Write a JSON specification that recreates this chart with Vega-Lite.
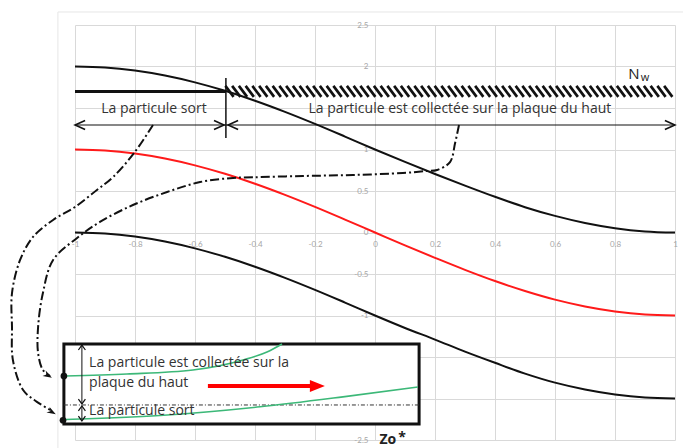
{
  "$schema": "https://vega.github.io/schema/vega-lite/v6.json",
  "autosize": "none",
  "padding": {"left": 75, "top": 25, "right": 8, "bottom": 8},
  "width": 600,
  "height": 415,
  "background": "white",
  "config": {"view": {"stroke": null}},
  "encoding": {
    "x": {"field": "x", "type": "quantitative",
      "scale": {"domain": [-1, 1], "nice": false, "zero": false},
      "axis": {"values": [-1, -0.8, -0.6, -0.4, -0.2, 0, 0.2, 0.4, 0.6, 0.8, 1], "offset": -207.5, "domain": false, "ticks": false, "title": null,
        "labelExpr": "toString(datum.value)", "labelFont": "Lato", "labelFontSize": 8, "labelColor": "#a6a6a6", "labelPadding": 8,
        "labelFlush": false, "labelOverlap": false, "gridColor": "#d9d9d9", "gridWidth": 1}},
    "y": {"field": "y", "type": "quantitative",
      "scale": {"domain": [-2.5, 2.5], "nice": false, "zero": false},
      "axis": {"values": [-2.5, -2, -1.5, -1, -0.5, 0, 0.5, 1, 1.5, 2, 2.5], "offset": -300, "domain": false, "ticks": false, "title": null,
        "labelExpr": "datum.value == 1.5 ? '' : toString(datum.value)", "labelFont": "Lato", "labelFontSize": 8, "labelColor": "#a6a6a6", "labelPadding": 7,
        "labelFlush": false, "labelOverlap": false, "gridColor": "#d9d9d9", "gridWidth": 1}}
  },
  "layer": [
    {
      "data": {"values": [{"x": -1.057, "x2": 1.06, "y": 2.657, "y2": -2.75}]},
      "mark": {"type": "rect", "fillOpacity": 0, "stroke": "#e6e6e6", "strokeWidth": 1},
      "encoding": {"x2": {"field": "x2"}, "y2": {"field": "y2"}}
    },
    {
      "data": {"values": [
        {"c": "top", "x": -1, "y": 2}, {"c": "top", "x": -0.9, "y": 1.988}, {"c": "top", "x": -0.8, "y": 1.951}, {"c": "top", "x": -0.7, "y": 1.891},
        {"c": "top", "x": -0.6, "y": 1.809}, {"c": "top", "x": -0.5, "y": 1.707}, {"c": "top", "x": -0.4, "y": 1.588}, {"c": "top", "x": -0.3, "y": 1.454},
        {"c": "top", "x": -0.2, "y": 1.309}, {"c": "top", "x": -0.1, "y": 1.156}, {"c": "top", "x": 0, "y": 1}, {"c": "top", "x": 0.1, "y": 0.85},
        {"c": "top", "x": 0.2, "y": 0.705}, {"c": "top", "x": 0.3, "y": 0.565}, {"c": "top", "x": 0.4, "y": 0.43}, {"c": "top", "x": 0.5, "y": 0.305},
        {"c": "top", "x": 0.6, "y": 0.2}, {"c": "top", "x": 0.7, "y": 0.115}, {"c": "top", "x": 0.8, "y": 0.052}, {"c": "top", "x": 0.9, "y": 0.013}, {"c": "top", "x": 1, "y": 0},
        {"c": "mid", "x": -1, "y": 1}, {"c": "mid", "x": -0.9, "y": 0.988}, {"c": "mid", "x": -0.8, "y": 0.951}, {"c": "mid", "x": -0.7, "y": 0.891},
        {"c": "mid", "x": -0.6, "y": 0.809}, {"c": "mid", "x": -0.5, "y": 0.707}, {"c": "mid", "x": -0.4, "y": 0.588}, {"c": "mid", "x": -0.3, "y": 0.454},
        {"c": "mid", "x": -0.2, "y": 0.309}, {"c": "mid", "x": -0.1, "y": 0.156}, {"c": "mid", "x": 0, "y": 0}, {"c": "mid", "x": 0.1, "y": -0.156},
        {"c": "mid", "x": 0.2, "y": -0.305}, {"c": "mid", "x": 0.3, "y": -0.45}, {"c": "mid", "x": 0.4, "y": -0.585}, {"c": "mid", "x": 0.5, "y": -0.705},
        {"c": "mid", "x": 0.6, "y": -0.809}, {"c": "mid", "x": 0.7, "y": -0.891}, {"c": "mid", "x": 0.8, "y": -0.951}, {"c": "mid", "x": 0.9, "y": -0.988}, {"c": "mid", "x": 1, "y": -1},
        {"c": "bot", "x": -1, "y": 0}, {"c": "bot", "x": -0.9, "y": -0.012}, {"c": "bot", "x": -0.8, "y": -0.049}, {"c": "bot", "x": -0.7, "y": -0.109},
        {"c": "bot", "x": -0.6, "y": -0.191}, {"c": "bot", "x": -0.5, "y": -0.293}, {"c": "bot", "x": -0.4, "y": -0.412}, {"c": "bot", "x": -0.3, "y": -0.546},
        {"c": "bot", "x": -0.2, "y": -0.691}, {"c": "bot", "x": -0.1, "y": -0.844}, {"c": "bot", "x": 0, "y": -1}, {"c": "bot", "x": 0.1, "y": -1.15},
        {"c": "bot", "x": 0.2, "y": -1.29}, {"c": "bot", "x": 0.3, "y": -1.435}, {"c": "bot", "x": 0.4, "y": -1.57}, {"c": "bot", "x": 0.5, "y": -1.7},
        {"c": "bot", "x": 0.6, "y": -1.809}, {"c": "bot", "x": 0.7, "y": -1.891}, {"c": "bot", "x": 0.8, "y": -1.951}, {"c": "bot", "x": 0.9, "y": -1.988}, {"c": "bot", "x": 1, "y": -2}
      ]},
      "mark": {"type": "line", "strokeWidth": 2, "interpolate": "monotone"},
      "encoding": {"color": {"field": "c", "type": "nominal", "legend": null,
        "scale": {"domain": ["top", "mid", "bot"], "range": ["#111111", "#ff1a1a", "#111111"]}}}
    },
    {
      "data": {"values": [{"x": -1, "x2": -0.497, "y": 1.7}]},
      "mark": {"type": "rule", "strokeWidth": 3, "color": "#111111"},
      "encoding": {"x2": {"field": "x2"}}
    },
    {
      "data": {"values": [
        {"x": -0.485, "y": 1.7}, {"x": -0.4625, "y": 1.7}, {"x": -0.44, "y": 1.7}, {"x": -0.4175, "y": 1.7}, {"x": -0.395, "y": 1.7}, {"x": -0.3725, "y": 1.7},
        {"x": -0.35, "y": 1.7}, {"x": -0.3275, "y": 1.7}, {"x": -0.305, "y": 1.7}, {"x": -0.2825, "y": 1.7}, {"x": -0.26, "y": 1.7}, {"x": -0.2375, "y": 1.7},
        {"x": -0.215, "y": 1.7}, {"x": -0.1925, "y": 1.7}, {"x": -0.17, "y": 1.7}, {"x": -0.1475, "y": 1.7}, {"x": -0.125, "y": 1.7}, {"x": -0.1025, "y": 1.7},
        {"x": -0.08, "y": 1.7}, {"x": -0.0575, "y": 1.7}, {"x": -0.035, "y": 1.7}, {"x": -0.0125, "y": 1.7}, {"x": 0.01, "y": 1.7}, {"x": 0.0325, "y": 1.7},
        {"x": 0.055, "y": 1.7}, {"x": 0.0775, "y": 1.7}, {"x": 0.1, "y": 1.7}, {"x": 0.1225, "y": 1.7}, {"x": 0.145, "y": 1.7}, {"x": 0.1675, "y": 1.7},
        {"x": 0.19, "y": 1.7}, {"x": 0.2125, "y": 1.7}, {"x": 0.235, "y": 1.7}, {"x": 0.2575, "y": 1.7}, {"x": 0.28, "y": 1.7}, {"x": 0.3025, "y": 1.7},
        {"x": 0.325, "y": 1.7}, {"x": 0.3475, "y": 1.7}, {"x": 0.37, "y": 1.7}, {"x": 0.3925, "y": 1.7}, {"x": 0.415, "y": 1.7}, {"x": 0.4375, "y": 1.7},
        {"x": 0.46, "y": 1.7}, {"x": 0.4825, "y": 1.7}, {"x": 0.505, "y": 1.7}, {"x": 0.5275, "y": 1.7}, {"x": 0.55, "y": 1.7}, {"x": 0.5725, "y": 1.7},
        {"x": 0.595, "y": 1.7}, {"x": 0.6175, "y": 1.7}, {"x": 0.64, "y": 1.7}, {"x": 0.6625, "y": 1.7}, {"x": 0.685, "y": 1.7}, {"x": 0.7075, "y": 1.7},
        {"x": 0.73, "y": 1.7}, {"x": 0.7525, "y": 1.7}, {"x": 0.775, "y": 1.7}, {"x": 0.7975, "y": 1.7}, {"x": 0.82, "y": 1.7}, {"x": 0.8425, "y": 1.7},
        {"x": 0.865, "y": 1.7}, {"x": 0.8875, "y": 1.7}, {"x": 0.91, "y": 1.7}, {"x": 0.9325, "y": 1.7}, {"x": 0.955, "y": 1.7}, {"x": 0.9775, "y": 1.7}
      ]},
      "mark": {"type": "point", "shape": "M -0.75 -1 L 0.75 1", "size": 121, "filled": false, "stroke": "#111111", "strokeWidth": 2.6, "opacity": 1}
    },
    {
      "data": {"values": [{"x": -0.497, "y": 1.861, "y2": 1.139}]},
      "mark": {"type": "rule", "strokeWidth": 1.5, "color": "#111111"},
      "encoding": {"y2": {"field": "y2"}}
    },
    {
      "data": {"values": [{"x": -1, "x2": 1, "y": 1.295}]},
      "mark": {"type": "rule", "strokeWidth": 1.2, "color": "#111111"},
      "encoding": {"x2": {"field": "x2"}}
    },
    {
      "data": {"values": [{"x": -0.983, "y": 1.295}, {"x": -0.473, "y": 1.295}]},
      "mark": {"type": "point", "shape": "M 1 -0.9 L -1 0 L 1 0.9", "size": 100, "filled": false, "stroke": "#111111", "strokeWidth": 1.6, "opacity": 1}
    },
    {
      "data": {"values": [{"x": -0.52, "y": 1.295}, {"x": 0.983, "y": 1.295}]},
      "mark": {"type": "point", "shape": "M -1 -0.9 L 1 0 L -1 0.9", "size": 100, "filled": false, "stroke": "#111111", "strokeWidth": 1.6, "opacity": 1}
    },
    {
      "data": {"values": [
        {"x": -0.737, "y": 1.44, "t": "La particule sort"},
        {"x": 0.283, "y": 1.44, "t": "La particule est collectée sur la plaque du haut"}
      ]},
      "mark": {"type": "text", "font": "Open Sans", "fontSize": 14, "color": "#333333", "align": "center", "baseline": "alphabetic"},
      "encoding": {"text": {"field": "t"}}
    },
    {
      "data": {"values": [{"x": 0.863, "y": 1.849, "t": "N"}]},
      "mark": {"type": "text", "font": "Open Sans", "fontSize": 15, "color": "#222222", "align": "center", "baseline": "alphabetic"},
      "encoding": {"text": {"field": "t"}}
    },
    {
      "data": {"values": [{"x": 0.9, "y": 1.825, "t": "w"}]},
      "mark": {"type": "text", "font": "Open Sans", "fontSize": 11, "color": "#222222", "align": "center", "baseline": "alphabetic"},
      "encoding": {"text": {"field": "t"}}
    },
    {
      "data": {"values": [
        {"id": "a", "i": 1, "x": -0.74, "y": 1.295}, {"id": "a", "i": 2, "x": -0.803, "y": 0.958}, {"id": "a", "i": 3, "x": -0.873, "y": 0.669},
        {"id": "a", "i": 4, "x": -0.927, "y": 0.512}, {"id": "a", "i": 5, "x": -1.0, "y": 0.307}, {"id": "a", "i": 6, "x": -1.073, "y": 0.151},
        {"id": "a", "i": 7, "x": -1.14, "y": -0.054}, {"id": "a", "i": 8, "x": -1.183, "y": -0.331}, {"id": "a", "i": 9, "x": -1.21, "y": -0.729},
        {"id": "a", "i": 10, "x": -1.21, "y": -1.139}, {"id": "a", "i": 11, "x": -1.207, "y": -1.536}, {"id": "a", "i": 12, "x": -1.173, "y": -1.898},
        {"id": "a", "i": 13, "x": -1.127, "y": -2.04}, {"id": "a", "i": 14, "x": -1.083, "y": -2.136},
        {"id": "b", "i": 1, "x": 0.28, "y": 1.295}, {"id": "b", "i": 2, "x": 0.267, "y": 1.078}, {"id": "b", "i": 3, "x": 0.25, "y": 0.849},
        {"id": "b", "i": 4, "x": 0.207, "y": 0.753}, {"id": "b", "i": 5, "x": 0.173, "y": 0.741}, {"id": "b", "i": 6, "x": 0.093, "y": 0.717},
        {"id": "b", "i": 7, "x": -0.073, "y": 0.693}, {"id": "b", "i": 8, "x": -0.24, "y": 0.681}, {"id": "b", "i": 9, "x": -0.407, "y": 0.665},
        {"id": "b", "i": 10, "x": -0.483, "y": 0.655}, {"id": "b", "i": 11, "x": -0.583, "y": 0.608}, {"id": "b", "i": 12, "x": -0.693, "y": 0.488},
        {"id": "b", "i": 13, "x": -0.807, "y": 0.331}, {"id": "b", "i": 14, "x": -0.917, "y": 0.127}, {"id": "b", "i": 15, "x": -0.993, "y": -0.066},
        {"id": "b", "i": 16, "x": -1.073, "y": -0.331}, {"id": "b", "i": 17, "x": -1.107, "y": -0.729}, {"id": "b", "i": 18, "x": -1.123, "y": -1.139},
        {"id": "b", "i": 19, "x": -1.123, "y": -1.452}, {"id": "b", "i": 20, "x": -1.107, "y": -1.657}, {"id": "b", "i": 21, "x": -1.083, "y": -1.729}
      ]},
      "mark": {"type": "line", "strokeWidth": 2, "color": "#111111", "strokeDash": [9, 3, 2, 3], "interpolate": "catmull-rom"},
      "encoding": {"order": {"field": "i", "type": "quantitative"}, "detail": {"field": "id"}}
    },
    {
      "data": {"values": [{"x": -1.077, "y": -2.163}, {"x": -1.09, "y": -1.723}]},
      "mark": {"type": "point", "shape": "M 1 0 L -1 -0.7 L -0.4 0 L -1 0.7 Z", "size": 81, "filled": true, "color": "#111111", "angle": 30, "opacity": 1}
    },
    {
      "data": {"values": [{"x": -1.037, "x2": 0.147, "y": -1.343, "y2": -2.307}]},
      "mark": {"type": "rect", "fill": "white", "stroke": "#111111", "strokeWidth": 3},
      "encoding": {"x2": {"field": "x2"}, "y2": {"field": "y2"}}
    },
    {
      "data": {"values": [{"x": -1.037, "x2": 0.147, "y": -2.078}]},
      "mark": {"type": "rule", "strokeWidth": 1, "color": "#333333", "strokeDash": [4, 2, 1, 2]},
      "encoding": {"x2": {"field": "x2"}}
    },
    {
      "data": {"values": [
        {"id": "g1", "x": -1.033, "y": -1.729}, {"id": "g1", "x": -0.827, "y": -1.705}, {"id": "g1", "x": -0.607, "y": -1.657},
        {"id": "g1", "x": -0.44, "y": -1.536}, {"id": "g1", "x": -0.36, "y": -1.44}, {"id": "g1", "x": -0.31, "y": -1.343},
        {"id": "g2", "x": -1.033, "y": -2.253}, {"id": "g2", "x": -0.717, "y": -2.205}, {"id": "g2", "x": -0.383, "y": -2.1},
        {"id": "g2", "x": -0.107, "y": -1.98}, {"id": "g2", "x": 0.143, "y": -1.861}
      ]},
      "mark": {"type": "line", "strokeWidth": 1.6, "color": "#3cb878", "interpolate": "monotone"},
      "encoding": {"detail": {"field": "id"}}
    },
    {
      "data": {"values": [{"x": -1.037, "y": -1.729}, {"x": -1.04, "y": -2.262}]},
      "mark": {"type": "point", "shape": "circle", "size": 45, "filled": true, "color": "#111111", "opacity": 1}
    },
    {
      "data": {"values": [{"x": -0.977, "y": -1.355, "y2": -2.066}, {"x": -0.977, "y": -2.084, "y2": -2.253}]},
      "mark": {"type": "rule", "strokeWidth": 1, "color": "#111111"},
      "encoding": {"y2": {"field": "y2"}}
    },
    {
      "data": {"values": [{"x": -0.977, "y": -1.386}, {"x": -0.977, "y": -2.12}]},
      "mark": {"type": "point", "shape": "M -1 0.7 L 0 -0.7 L 1 0.7", "size": 49, "filled": false, "stroke": "#111111", "strokeWidth": 1.2, "opacity": 1}
    },
    {
      "data": {"values": [{"x": -0.977, "y": -2.036}, {"x": -0.977, "y": -2.241}]},
      "mark": {"type": "point", "shape": "M -1 -0.7 L 0 0.7 L 1 -0.7", "size": 49, "filled": false, "stroke": "#111111", "strokeWidth": 1.2, "opacity": 1}
    },
    {
      "data": {"values": [
        {"x": -0.953, "y": -1.617, "t": "La particule est collectée sur la"},
        {"x": -0.953, "y": -1.86, "t": "plaque du haut"},
        {"x": -0.953, "y": -2.2, "t": "La particule sort"}
      ]},
      "mark": {"type": "text", "font": "Open Sans", "fontSize": 14, "color": "#333333", "align": "left", "baseline": "alphabetic"},
      "encoding": {"text": {"field": "t"}}
    },
    {
      "data": {"values": [{"x": -0.557, "x2": -0.2, "y": -1.849}]},
      "mark": {"type": "rule", "strokeWidth": 4, "color": "#ff0000"},
      "encoding": {"x2": {"field": "x2"}}
    },
    {
      "data": {"values": [{"x": -0.192, "y": -1.849}]},
      "mark": {"type": "point", "shape": "M 1 0 L -1 -0.8 L -1 0.8 Z", "size": 225, "filled": true, "color": "#ff0000", "opacity": 1}
    },
    {
      "data": {"values": [{"x": 0.043, "y": -2.55, "t": "Zo"}]},
      "mark": {"type": "text", "font": "Open Sans", "fontSize": 14, "fontWeight": "bold", "color": "#222222", "align": "center", "baseline": "alphabetic"},
      "encoding": {"text": {"field": "t"}}
    },
    {
      "data": {"values": [{"x": 0.09, "y": -2.53, "t": "*"}]},
      "mark": {"type": "text", "font": "Open Sans", "fontSize": 14, "fontWeight": "bold", "color": "#222222", "align": "center", "baseline": "alphabetic"},
      "encoding": {"text": {"field": "t"}}
    }
  ]
}
